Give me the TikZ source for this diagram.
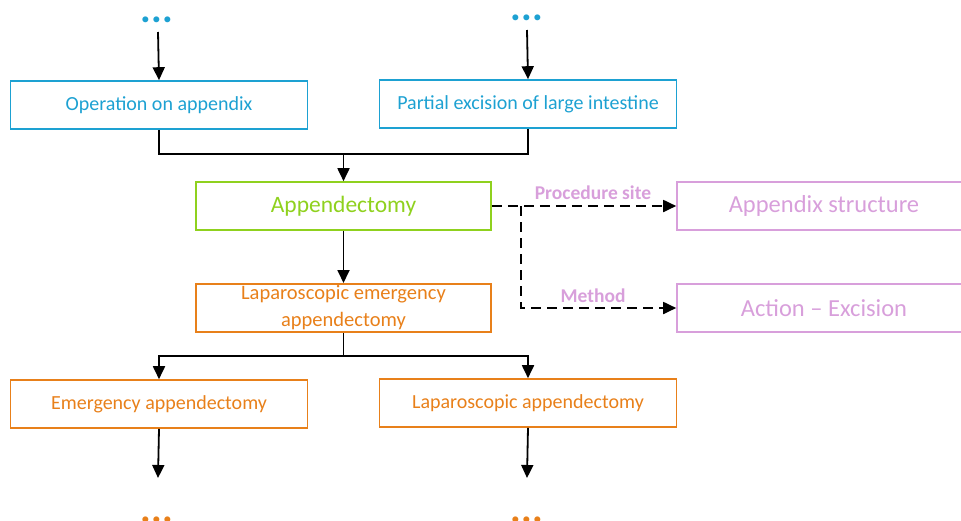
\documentclass[tikz,border=0pt]{standalone}
\usepackage{fontspec}
\setmainfont{Carlito}
\usetikzlibrary{arrows.meta}
\definecolor{ccyan}{HTML}{1DA1D2}
\definecolor{cgreen}{HTML}{8FD11E}
\definecolor{corange}{HTML}{E8801A}
\definecolor{cpurple}{HTML}{D89FDB}
\tikzset{
  box/.style={draw=#1, text=#1, line width=1.6pt, rectangle, minimum width=297pt, minimum height=48pt, inner sep=2pt, font=\fontsize{20}{27}\selectfont, align=center},
  arr/.style={line width=1.8pt, -{Triangle[length=13pt,width=12pt]}},
  ln/.style={line width=1.8pt},
  dsh/.style={dash pattern=on 10pt off 6pt},
  dots/.style={text=#1, font=\fontsize{40}{40}\selectfont\bfseries, inner sep=0pt},
  lbl/.style={text=cpurple, font=\fontsize{19.5}{22}\selectfont\bfseries, inner sep=1pt}
}
\begin{document}
\begin{tikzpicture}[x=1pt,y=-1pt]
\useasboundingbox (0,0) rectangle (961,520);
\clip (0,0) rectangle (961,520);
% nodes
\node[dots=ccyan] (dotsL) at (157,20) {...};
\node[dots=ccyan] (dotsR) at (527,18) {...};
\node[box=ccyan] (op) at (159,105) {Operation on appendix};
\node[box=ccyan] (pex) at (528,104) {Partial excision of large intestine};
\node[box=cgreen, minimum width=295pt, font=\fontsize{23.5}{27}\selectfont] (app) at (343.5,206) {Appendectomy};
\node[box=corange, minimum width=295pt, font=\fontsize{20.5}{27}\selectfont] (lea) at (343.5,308) {Laparoscopic emergency\\appendectomy};
\node[box=corange] (ea) at (159,404) {Emergency appendectomy};
\node[box=corange] (la) at (528,403) {Laparoscopic appendectomy};
\node[dots=corange] (dotsBL) at (157,519.5) {...};
\node[dots=corange] (dotsBR) at (527,519.5) {...};
\node[box=cpurple, minimum width=294pt, font=\fontsize{24.5}{27}\selectfont] (as) at (824,206) {Appendix structure};
\node[box=cpurple, minimum width=294pt, font=\fontsize{24.5}{27}\selectfont] (ae) at (824,308) {Action -- Excision};
% connectors
\draw[arr] (158,32) -- (op.north);
\draw[arr] (527,30) -- (pex.north);
\coordinate (merge) at (343.5,154);
\draw[ln] (op.south) |- (merge) -| (pex.south);
\draw[arr] (merge) -- (app.north);
\draw[arr] (app) -- (lea);
\coordinate (split) at (343.5,356);
\draw[ln] (lea.south) -- (split);
\draw[arr] (split) -| (ea.north);
\draw[arr] (split) -| (la.north);
\coordinate (endL) at (158,478);
\coordinate (endR) at (527,478);
\draw[arr] (ea.south) -- (endL);
\draw[arr] (la.south) -- (endR);
\coordinate (br) at (521,206);
\draw[arr,dsh] (app.east) -- (as.west);
\draw[arr,dsh] (br) |- (ae.west);
\node[lbl] (lps) at (593,193) {Procedure site};
\node[lbl] (lme) at (593,296) {Method};
\end{tikzpicture}
\end{document}
